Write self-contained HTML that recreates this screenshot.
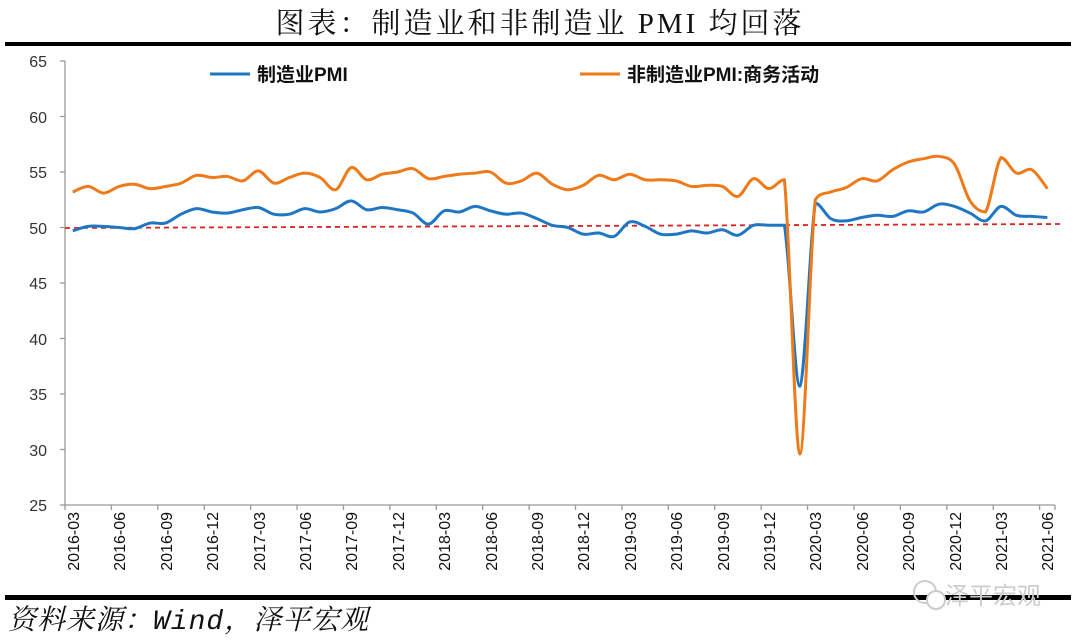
<!DOCTYPE html>
<html><head><meta charset="utf-8"><style>
body{margin:0;background:#fff;width:1080px;height:638px;overflow:hidden}
</style></head><body>
<svg id="s" width="1080" height="638" xmlns="http://www.w3.org/2000/svg" style="font-family:'Liberation Sans','Noto Sans CJK SC',sans-serif">
<text x="540" y="33" text-anchor="middle" font-family="'Liberation Serif','Noto Serif CJK SC',serif" font-size="29" fill="#111" letter-spacing="3">图表：制造业和非制造业 PMI 均回落</text>
<rect x="5" y="42" width="1066" height="4" fill="#000"/>
<rect x="5" y="595" width="1066" height="5" fill="#000"/>
<text x="8" y="629" font-family="'Liberation Mono','Noto Serif CJK SC',serif" font-style="italic" font-size="28" fill="#111" letter-spacing="1">资料来源：Wind，泽平宏观</text>
<circle cx="925" cy="592" r="11" fill="none" stroke="#ccc" stroke-width="2"/>
<circle cx="936" cy="600" r="9" fill="#fff" stroke="#ccc" stroke-width="2"/>
<text x="945" y="604" font-size="24" fill="#ccc" font-family="'Noto Sans CJK SC',sans-serif">泽平宏观</text>
<g stroke="#999" stroke-width="1.3" fill="none">
<line x1="65" y1="61" x2="65" y2="505"/>
<line x1="65" y1="505" x2="1055" y2="505"/>
</g>
<g id="ticks" stroke="#999" stroke-width="1.3"></g>
<g font-size="16" fill="#333" text-anchor="end">
<text x="47" y="67">65</text><text x="47" y="123">60</text><text x="47" y="178">55</text><text x="47" y="234">50</text><text x="47" y="289">45</text><text x="47" y="345">40</text><text x="47" y="400">35</text><text x="47" y="456">30</text><text x="47" y="511">25</text>
</g>
<g font-size="16" fill="#111" text-anchor="end">
<text transform="translate(79,512) rotate(-90)">2016-03</text>
<text transform="translate(125,512) rotate(-90)">2016-06</text>
<text transform="translate(172,512) rotate(-90)">2016-09</text>
<text transform="translate(218,512) rotate(-90)">2016-12</text>
<text transform="translate(265,512) rotate(-90)">2017-03</text>
<text transform="translate(311,512) rotate(-90)">2017-06</text>
<text transform="translate(357,512) rotate(-90)">2017-09</text>
<text transform="translate(404,512) rotate(-90)">2017-12</text>
<text transform="translate(450,512) rotate(-90)">2018-03</text>
<text transform="translate(497,512) rotate(-90)">2018-06</text>
<text transform="translate(543,512) rotate(-90)">2018-09</text>
<text transform="translate(589,512) rotate(-90)">2018-12</text>
<text transform="translate(636,512) rotate(-90)">2019-03</text>
<text transform="translate(682,512) rotate(-90)">2019-06</text>
<text transform="translate(729,512) rotate(-90)">2019-09</text>
<text transform="translate(775,512) rotate(-90)">2019-12</text>
<text transform="translate(821,512) rotate(-90)">2020-03</text>
<text transform="translate(868,512) rotate(-90)">2020-06</text>
<text transform="translate(914,512) rotate(-90)">2020-09</text>
<text transform="translate(961,512) rotate(-90)">2020-12</text>
<text transform="translate(1007,512) rotate(-90)">2021-03</text>
<text transform="translate(1053,512) rotate(-90)">2021-06</text>
</g>
<line x1="65" y1="228" x2="1062" y2="224" stroke="#d22" stroke-width="1.8" stroke-dasharray="5,4"/>
<path id="pb" fill="none" stroke="#1f77c4" stroke-width="3"/>
<path id="po" fill="none" stroke="#ee7a1a" stroke-width="3"/>
<line x1="210" y1="74" x2="250" y2="74" stroke="#1f77c4" stroke-width="3"/>
<text x="257" y="81" font-size="19" font-weight="bold" fill="#111">制造业PMI</text>
<line x1="580" y1="74" x2="620" y2="74" stroke="#ee7a1a" stroke-width="3"/>
<text x="627" y="81" font-size="19" font-weight="bold" fill="#111">非制造业PMI:商务活动</text>
</svg>
<script>
var m=[49.7,50.1,50.1,50.0,49.9,50.4,50.4,51.2,51.7,51.4,51.3,51.6,51.8,51.2,51.2,51.7,51.4,51.7,52.4,51.6,51.8,51.6,51.3,50.3,51.5,51.4,51.9,51.5,51.2,51.3,50.8,50.2,50.0,49.4,49.5,49.2,50.5,50.1,49.4,49.4,49.7,49.5,49.8,49.3,50.2,50.2,50.2,35.7,52.2,50.8,50.6,50.9,51.1,51.0,51.5,51.4,52.1,51.9,51.3,50.6,51.9,51.1,51.0,50.9];
var n=[53.2,53.7,53.1,53.7,53.9,53.5,53.7,54.0,54.7,54.5,54.6,54.2,55.1,54.0,54.5,54.9,54.5,53.4,55.4,54.3,54.8,55.0,55.3,54.4,54.6,54.8,54.9,55.0,54.0,54.2,54.9,53.9,53.4,53.8,54.7,54.3,54.8,54.3,54.3,54.2,53.7,53.8,53.7,52.8,54.4,53.5,54.3,29.6,52.5,53.2,53.6,54.4,54.2,55.2,55.9,56.2,56.4,55.7,52.4,51.4,56.3,54.9,55.2,53.5];
var W=15.47;
function X(i){return 65+W*(i+0.5)}function Y(v){return 61+(65-v)*11.1}
function cl(v,a,b){var lo=Math.min(a,b),hi=Math.max(a,b);return Math.max(lo,Math.min(hi,v));}
function path(d){var p=d.map(function(v,i){return[X(i),Y(v)]});var s="M"+p[0][0]+","+p[0][1];
for(var i=0;i<p.length-1;i++){var a=p[i-1]||p[i],b=p[i],c=p[i+1],e=p[i+2]||c;var t=6;
var y1=b[1]+(c[1]-a[1])/t,y2=c[1]-(e[1]-b[1])/t;
var big=Math.abs(c[1]-b[1])>40||Math.abs(a[1]-b[1])>40||Math.abs(e[1]-c[1])>40;
if(big){y1=cl(y1,b[1],c[1]);y2=cl(y2,b[1],c[1]);}
s+="C"+(b[0]+(c[0]-a[0])/t)+","+y1+" "+(c[0]-(e[0]-b[0])/t)+","+y2+" "+c[0]+","+c[1];}return s;}
document.getElementById('pb').setAttribute('d',path(m));
document.getElementById('po').setAttribute('d',path(n));
var g=document.getElementById('ticks'),h="";
for(var i=0;i<=63;i+=3){var x=65+W*i;h+='<line x1="'+x+'" y1="505" x2="'+x+'" y2="510"/>';}
h+='<line x1="1055" y1="505" x2="1055" y2="510"/>';
for(var v=25;v<=65;v+=5){h+='<line x1="60" y1="'+Y(v)+'" x2="65" y2="'+Y(v)+'"/>';}
g.innerHTML=h;
</script>
</body></html>
